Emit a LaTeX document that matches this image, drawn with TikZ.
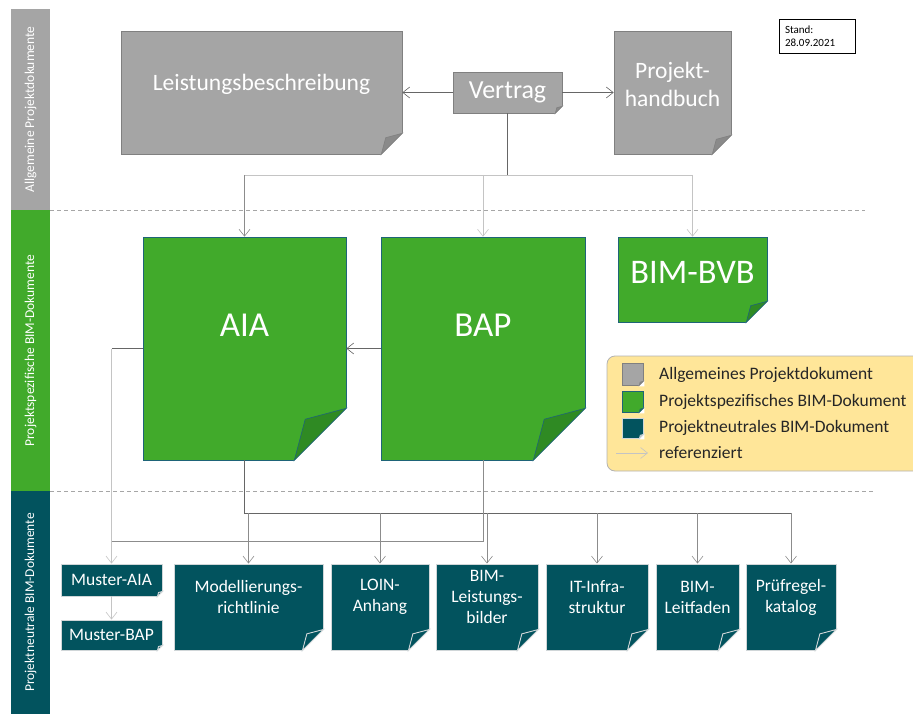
\documentclass[tikz,border=0pt]{standalone}
\usepackage{fontspec}
\setmainfont{Carlito}
\usetikzlibrary{arrows.meta,calc}

\definecolor{docgray}{HTML}{A5A5A5}
\definecolor{docgrayline}{HTML}{808080}
\definecolor{docgrayflap}{HTML}{8A8A8A}
\definecolor{docgreen}{HTML}{41AA2B}
\definecolor{docgreenline}{HTML}{1E6478}
\definecolor{docgreenflap}{HTML}{2F8A23}
\definecolor{docteal}{HTML}{02535E}
\definecolor{doctealline}{HTML}{D0D6D8}
\definecolor{legendfill}{HTML}{FFE699}
\definecolor{lndark}{HTML}{666666}
\definecolor{lnmid}{HTML}{8C8C8C}
\definecolor{lnlight}{HTML}{C4C4C4}

\tikzset{
  doc/.style={rectangle, inner sep=0pt, line width=0.6pt},
  graydoc/.style={doc, fill=docgray, draw=docgrayline},
  greendoc/.style={doc, fill=docgreen, draw=docgreenline},
  tealdoc/.style={doc, fill=docteal, draw=doctealline, line width=0.9pt},
  grayflap/.style={fill=docgrayflap, draw=docgrayline, line width=0.6pt},
  greenflap/.style={fill=docgreenflap, draw=docgreenline, line width=0.6pt},
  tealflap/.style={fill=docteal, draw=doctealline, line width=0.9pt},
  doctext/.style={text=white, align=center, inner sep=0pt},
  teallabel/.style={doctext, font=\fontsize{17.5}{21}\selectfont},
  ref/.style={-{Straight Barb[length=7pt,width=11pt]}, line width=0.6pt},
  lane/.style={inner sep=0pt, minimum height=39pt, text=white, rotate=90,
    font=\fontsize{13.5}{16}\selectfont},
  legendtext/.style={anchor=west, inner sep=0pt, text=black!85,
    font=\fontsize{17.5}{20}\selectfont},
  sep/.style={dashed, dash pattern=on 4pt off 3pt, draw=black!35, line width=0.8pt},
}

% folded bottom right corner: node, size, flap style
\newcommand{\dogear}[3]{%
  \fill[white] ([xshift=1pt,yshift=#2+1pt]#1.south east)
    -- ([xshift=1pt,yshift=-1pt]#1.south east)
    -- ([xshift=-#2-1pt,yshift=-1pt]#1.south east) -- cycle;
  \path[#3] ([yshift=#2]#1.south east) -- ([xshift=-#2]#1.south east)
    -- ([xshift=-0.79*#2,yshift=0.79*#2]#1.south east) -- cycle;
}

\begin{document}
\begin{tikzpicture}[x=1pt, y=-1pt]
  \clip (0,0) rectangle (913,714);

  % lanes
  \node [lane, fill=docgray, minimum width=201pt] (sb1) at (30.5,109.5) {Allgemeine Projektdokumente};
  \node [lane, fill=docgreen, minimum width=281pt] (sb2) at (30.5,350.5) {Projektspezifische BIM-Dokumente};
  \node [lane, fill=docteal, minimum width=223pt] (sb3) at (30.5,602.5) {Projektneutrale BIM-Dokumente};
  \draw [sep] (50,210) -- (865,210);
  \draw [sep] (50,491) -- (873,491);

  % general project documents
  \node [graydoc, minimum width=281pt, minimum height=123pt,
    label={[doctext, font=\fontsize{23.5}{28}\selectfont, yshift=8pt]center:Leistungsbeschreibung}]
    (lb) at (261.5,92.5) {};
  \node [graydoc, minimum width=109pt, minimum height=41pt,
    label={[doctext, font=\fontsize{26}{30}\selectfont]center:Vertrag}]
    (vt) at (507.5,92.5) {};
  \node [graydoc, minimum width=117pt, minimum height=123pt,
    label={[doctext, font=\fontsize{23.5}{28}\selectfont, yshift=8pt]center:{Projekt-\\handbuch}}]
    (phb) at (672.5,92.5) {};
  \node [draw, line width=0.8pt, minimum width=76pt, minimum height=34pt, text width=64pt,
    align=left, inner sep=2pt, font=\fontsize{11}{13.5}\selectfont]
    (stand) at (817,36) {Stand:\\28.09.2021};

  % project specific documents
  \node [greendoc, minimum width=203pt, minimum height=223pt,
    label={[doctext, font=\fontsize{35}{40}\selectfont, yshift=23pt]center:AIA}]
    (aia) at (244.5,348.5) {};
  \node [greendoc, minimum width=204pt, minimum height=223pt,
    label={[doctext, font=\fontsize{35}{40}\selectfont, yshift=23pt]center:BAP}]
    (bap) at (483,348.5) {};
  \node [greendoc, minimum width=149pt, minimum height=85pt,
    label={[doctext, font=\fontsize{34.5}{40}\selectfont, yshift=7pt]center:BIM-BVB}]
    (bvb) at (692.5,279.5) {};

  % project neutral documents
  \node [tealdoc, minimum width=101pt, minimum height=32pt,
    label={[teallabel]center:Muster-AIA}] (maia) at (111.5,580) {};
  \node [tealdoc, minimum width=101pt, minimum height=30pt,
    label={[teallabel]center:Muster-BAP}] (mbap) at (111.5,635) {};
  \node [tealdoc, minimum width=149pt, minimum height=86pt,
    label={[teallabel, yshift=10pt]center:{Modellierungs-\\richtlinie}}] (mod) at (248.5,607) {};
  \node [tealdoc, minimum width=98pt, minimum height=86pt,
    label={[teallabel, yshift=10pt]center:{LOIN-\\Anhang}}] (loin) at (380,607) {};
  \node [tealdoc, minimum width=102pt, minimum height=86pt,
    label={[teallabel, yshift=10pt]center:{BIM-\\Leistungs-\\bilder}}] (lsb) at (487,607) {};
  \node [tealdoc, minimum width=102pt, minimum height=86pt,
    label={[teallabel, yshift=10pt]center:{IT-Infra-\\struktur}}] (itinf) at (597,607) {};
  \node [tealdoc, minimum width=83pt, minimum height=86pt,
    label={[teallabel, yshift=10pt]center:{BIM-\\Leitfaden}}] (leit) at (697.5,607) {};
  \node [tealdoc, minimum width=90pt, minimum height=86pt,
    label={[teallabel, yshift=10pt]center:{Prüfregel-\\katalog}}] (prk) at (791,607) {};

  % legend
  \draw [fill=legendfill, draw=black!30, line width=0.8pt, rounded corners=8pt] (607,356) rectangle (930,471);
  \node [graydoc, minimum width=21pt, minimum height=22pt] (lg1) at (632.5,374) {};
  \node [greendoc, minimum width=21pt, minimum height=21pt] (lg2) at (632.5,401.5) {};
  \node [tealdoc, minimum width=21pt, minimum height=20pt] (lg3) at (632.5,428) {};
  \node [legendtext] (lt1) at (659,375) {Allgemeines Projektdokument};
  \node [legendtext] (lt2) at (659,402) {Projektspezifisches BIM-Dokument};
  \node [legendtext] (lt3) at (659,428) {Projektneutrales BIM-Dokument};
  \node [legendtext] (lt4) at (659,453) {referenziert};
  \coordinate (la) at (616,453);
  \coordinate (lb4) at (648,453);

  % folded corners
  \foreach \n/\s in {lb/21pt, vt/7pt, phb/19pt, lg1/4pt} {\dogear{\n}{\s}{grayflap}}
  \foreach \n/\s in {aia/52pt, bap/52pt, bvb/21pt, lg2/4pt} {\dogear{\n}{\s}{greenflap}}
  \foreach \n/\s in {maia/5pt, mbap/5pt, mod/21pt, loin/21pt, lsb/21pt, itinf/21pt,
    leit/21pt, prk/21pt, lg3/4pt} {\dogear{\n}{\s}{tealflap}}

  % references
  \coordinate (j1) at (507.5,175);
  \coordinate (j2) at (0,513);
  \coordinate (j3) at (0,541);
  \draw [ref, lndark] (vt.west) -- (lb.east);
  \draw [ref, lndark] (vt.east) -- (phb.west);
  \draw [lndark] (vt.south) -- (j1);
  \draw [lnlight, line width=0.6pt] (j1 -| aia.north) -- (j1 -| bvb.north);
  \draw [ref, lnmid] (j1 -| aia.north) -- (aia.north);
  \draw [ref, lnlight] (j1 -| bap.north) -- (bap.north);
  \draw [ref, lnlight] (j1 -| bvb.north) -- (bvb.north);
  \draw [ref, lndark] (bap.west) -- (aia.east);
  \draw [lndark, line width=0.6pt] (aia.west) -- (aia.west -| maia.north);
  \draw [ref, lnlight] (aia.west -| maia.north) -- (maia.north);
  \draw [ref, lnlight] (maia.south) -- (mbap.north);
  \draw [lndark, line width=0.6pt] (aia.south) |- (j2 -| prk.north);
  \draw [lnmid, line width=0.6pt] (bap.south) |- (j3 -| maia.north);
  \foreach \n in {mod, loin, lsb, itinf, leit, prk}
    \draw [ref, lnmid] (j2 -| \n.north) -- (\n.north);
  \draw [ref, lnlight] (la) -- (lb4);
\end{tikzpicture}
\end{document}
